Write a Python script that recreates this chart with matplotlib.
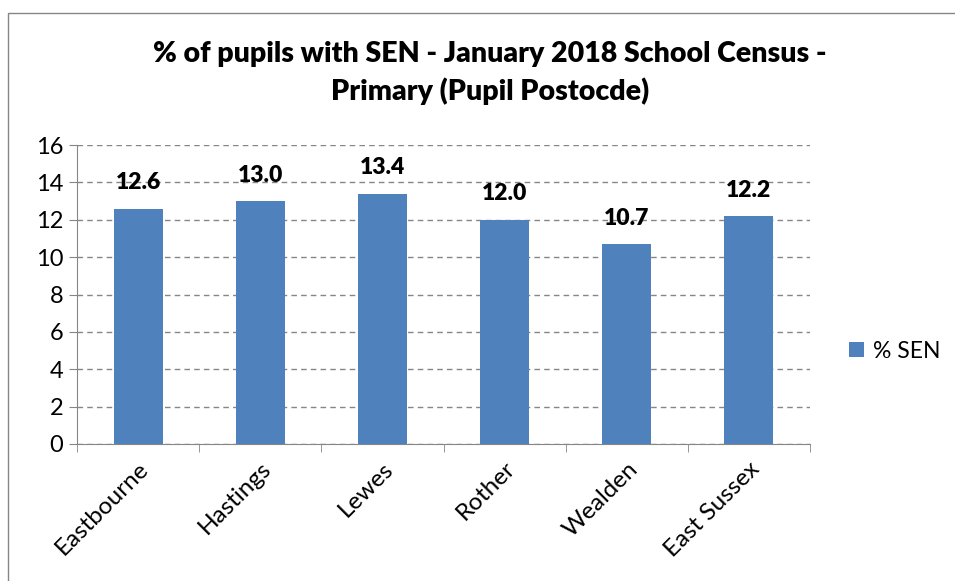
import matplotlib.pyplot as plt
from matplotlib.patches import Rectangle

districts = ["Eastbourne", "Hastings", "Lewes", "Rother", "Wealden", "East Sussex"]
sen_pct = [12.6, 13.0, 13.4, 12.0, 10.7, 12.2]
y_ticks = [0, 2, 4, 6, 8, 10, 12, 14, 16]

plt.rcParams['font.family'] = ['Lato', 'DejaVu Sans']

fig = plt.figure(figsize=(9.55, 5.81), dpi=100, facecolor="w")
# chart frame (cropped on the right and bottom like the original)
fig.patches.append(Rectangle((8 / 955, -0.02), 1.0, 1 - 13 / 581 + 0.02,
                             transform=fig.transFigure, fill=False,
                             edgecolor="#868686", lw=1))

ax = fig.add_axes([77 / 955, 1 - 444 / 581, (810 - 77) / 955, (444 - 145) / 581])

x = range(len(districts))
ax.bar(x, sen_pct, width=0.4, color="#4F81BD", zorder=3, label="% SEN")
for xi, v in zip(x, sen_pct):
    ax.annotate("%.1f" % v, (xi, v), xytext=(0, 11), textcoords="offset points",
                ha="center", va="bottom", fontsize=16.5, fontweight="heavy")

ax.set_xlim(-0.5, len(districts) - 0.5)
ax.set_ylim(0, 16)
ax.set_yticks(y_ticks)
ax.tick_params(axis="y", labelsize=17, length=6, color="#868686", pad=4)
ax.yaxis.grid(True, linestyle=(0, (4, 3)), color="#868686", lw=1, zorder=0)

ax.set_xticks(list(x))
ax.set_xticklabels(districts, rotation=45, ha="right", rotation_mode="anchor",
                   fontsize=17.5)
ax.tick_params(axis="x", length=0, pad=10)
ax.set_xticks([i + 0.5 for i in range(-1, len(districts))], minor=True)
ax.tick_params(axis="x", which="minor", length=6, color="#868686")

for s in ["top", "right"]:
    ax.spines[s].set_visible(False)
for s in ["left", "bottom"]:
    ax.spines[s].set_color("#868686")

fig.text(0.513, 1 - 73 / 581,
         "% of pupils with SEN - January 2018 School Census -\nPrimary (Pupil Postocde)",
         ha="center", va="center", fontsize=20.5, fontweight="heavy", linespacing=1.45)

ax.legend(loc="center left", bbox_to_anchor=(1.025, 0.31), frameon=False,
          fontsize=16.5, handlelength=0.65, handleheight=0.65, handletextpad=0.4)

fig.savefig("out.png", dpi=100, facecolor="w")
